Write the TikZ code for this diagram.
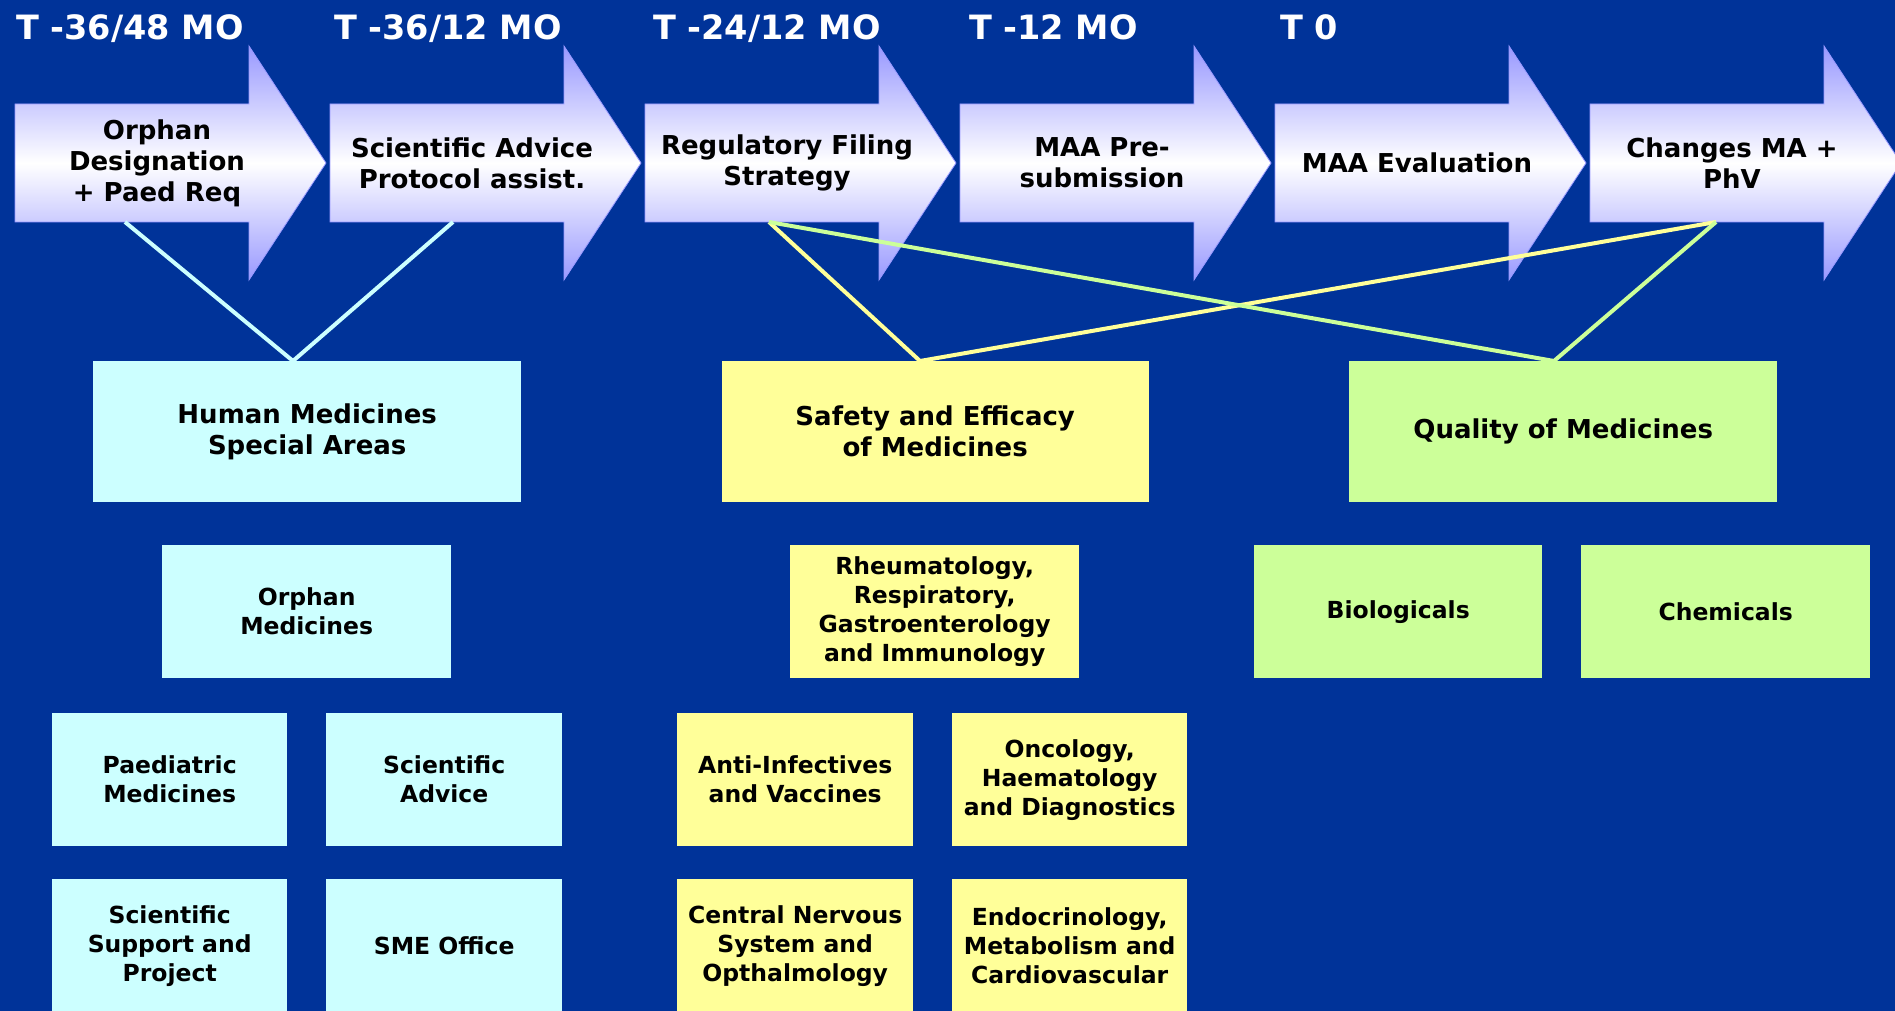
\documentclass[tikz,border=0pt]{standalone}
\usepackage{fontspec}
\setmainfont{DejaVu Sans}
\usetikzlibrary{calc}
\definecolor{bg}{HTML}{003399}
\definecolor{cyanbox}{HTML}{CCFFFF}
\definecolor{yelbox}{HTML}{FFFF99}
\definecolor{grnbox}{HTML}{CCFF99}
\definecolor{lav}{HTML}{9999FF}
\newcommand\flowarrow[3]{%
  \begin{scope}[shift={(#2,0)}]
    \shade[arrowshade] (0,104) -- (234,104) -- (234,46) -- (311,163) -- (234,280) -- (234,222) -- (0,222) -- cycle;
    \node[arrowtext] (#1) at (142,163) {#3};
  \end{scope}}
\begin{document}
\begin{tikzpicture}[x=1pt,y=-1pt,
  timelabel/.style={anchor=base west, text=white, font=\fontsize{33.5}{38}\selectfont\bfseries, inner sep=0},
  arrowtext/.style={align=center, font=\fontsize{26}{31}\selectfont\bfseries, text=black, inner sep=0},
  arrowshade/.style={top color=lav, bottom color=lav, middle color=white, draw=lav, line width=0.8},
  bigbox/.style={anchor=north west, minimum height=141, inner sep=0, align=center, font=\fontsize{26}{31}\selectfont\bfseries, text=black},
  smallbox/.style={anchor=north west, minimum height=133, inner sep=0, align=center, font=\fontsize{23.5}{29}\selectfont\bfseries, text=black},
  cyanfill/.style={fill=cyanbox},
  yelfill/.style={fill=yelbox},
  grnfill/.style={fill=grnbox},
  link/.style={line width=4}
]
\useasboundingbox (0,0) rectangle (1895,1011);
\clip (0,0) rectangle (1895,1011);
\fill[bg] (0,0) rectangle (1895,1011);

% time labels
\node[timelabel] (t1) at (16,40) {T -36/48 MO};
\node[timelabel] (t2) at (334,40) {T -36/12 MO};
\node[timelabel] (t3) at (653,40) {T -24/12 MO};
\node[timelabel] (t4) at (969,40) {T -12 MO};
\node[timelabel] (t5) at (1280,40) {T 0};

% process arrows
\flowarrow{a1}{15}{Orphan\\Designation\\+ Paed Req}
\flowarrow{a2}{330}{Scientific Advice\\Protocol assist.}
\flowarrow{a3}{645}{Regulatory Filing\\Strategy}
\flowarrow{a4}{960}{MAA Pre-\\submission}
\flowarrow{a5}{1275}{MAA Evaluation}
\flowarrow{a6}{1590}{Changes MA +\\PhV}

% main boxes
\node[bigbox, cyanfill, minimum width=428] (hm) at (93,361) {Human Medicines\\Special Areas};
\node[bigbox, yelfill, minimum width=427] (se) at (721.5,361) {Safety and Efficacy\\of Medicines};
\node[bigbox, grnfill, minimum width=428] (qm) at (1349,361) {Quality of Medicines};

% connector end points
\coordinate (f1) at (125,222);
\coordinate (f2) at (453,222);
\coordinate (f3) at (769,222);
\coordinate (f6) at (1716,222);
\coordinate (hmtop) at (293,361);
\coordinate (setop) at (920,361);
\coordinate (qmtop) at (1554,361);

\draw[link, cyanbox] (f1) -- (hmtop) -- (f2);
\draw[link, yelbox] (f3) -- (setop) -- (f6);
\draw[link, grnbox] (f3) -- (qmtop) -- (f6);

% sub boxes
\node[smallbox, cyanfill, minimum width=289] (orph) at (162,545) {Orphan\\Medicines};
\node[smallbox, cyanfill, minimum width=235] (paed) at (52,713) {Paediatric\\Medicines};
\node[smallbox, cyanfill, minimum width=236] (sadv) at (326,713) {Scientific\\Advice};
\node[smallbox, cyanfill, minimum width=235] (ssup) at (52,879) {Scientific\\Support and\\Project};
\node[smallbox, cyanfill, minimum width=236] (sme) at (326,879) {SME Office};

\node[smallbox, yelfill, minimum width=289] (rheu) at (790,545) {Rheumatology,\\Respiratory,\\Gastroenterology\\and Immunology};
\node[smallbox, yelfill, minimum width=236] (anti) at (677,713) {Anti-Infectives\\and Vaccines};
\node[smallbox, yelfill, minimum width=235] (onco) at (952,713) {Oncology,\\Haematology\\and Diagnostics};
\node[smallbox, yelfill, minimum width=236] (cns) at (677,879) {Central Nervous\\System and\\Opthalmology};
\node[smallbox, yelfill, minimum width=235] (endo) at (952,879) {Endocrinology,\\Metabolism and\\Cardiovascular};

\node[smallbox, grnfill, minimum width=288] (bio) at (1254,545) {Biologicals};
\node[smallbox, grnfill, minimum width=289] (chem) at (1581,545) {Chemicals};
\end{tikzpicture}
\end{document}
